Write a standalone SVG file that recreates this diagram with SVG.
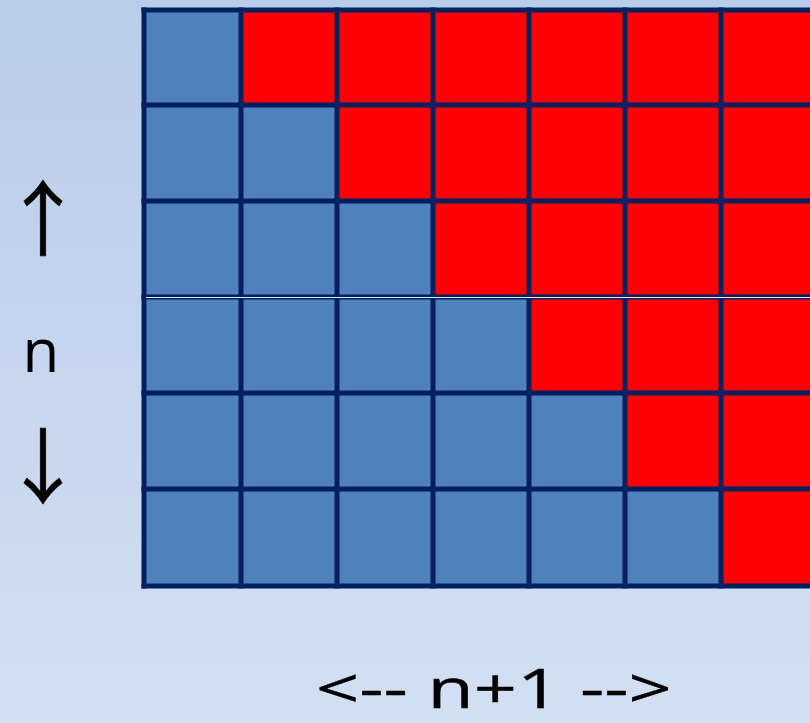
<svg xmlns="http://www.w3.org/2000/svg" width="810" height="723" viewBox="0 0 810 723">
<defs>
<linearGradient id="bg" x1="0" y1="0" x2="0" y2="1">
<stop offset="0" stop-color="#b9cce9"/>
<stop offset="1" stop-color="#d3dff2"/>
</linearGradient>
<style>
.b{fill:#4f81bd}
.r{fill:#ff0000}
.g{stroke:#002060;stroke-width:5;fill:none;stroke-linecap:square}
.t{font-family:"Open Sans","Liberation Sans",sans-serif;fill:#000}
.a{font-family:"Noto Sans CJK JP",sans-serif;fill:#000}
</style>
</defs>
<rect width="810" height="723" fill="url(#bg)"/>
<g id="cells">
<rect class="b" x="144" y="10" width="97" height="95"/>
<rect class="r" x="241" y="10" width="580" height="95"/>
<rect class="b" x="144" y="105" width="193" height="96"/>
<rect class="r" x="337" y="105" width="484" height="96"/>
<rect class="b" x="144" y="201" width="289" height="96"/>
<rect class="r" x="433" y="201" width="388" height="96"/>
<rect class="b" x="144" y="297" width="385" height="96"/>
<rect class="r" x="529" y="297" width="292" height="96"/>
<rect class="b" x="144" y="393" width="481" height="96"/>
<rect class="r" x="625" y="393" width="196" height="96"/>
<rect class="b" x="144" y="489" width="577" height="97"/>
<rect class="r" x="721" y="489" width="100" height="97"/>
</g>
<g id="connectors">
<path class="g" d="M144 10H820M144 105H820M144 201H820M144 297H820M144 393H820M144 489H820M144 586H820"/>
<path class="g" d="M144 10V586M241 10V586M337 10V586M433 10V586M529 10V586M625 10V586M721 10V586"/>
<line x1="146" y1="297.5" x2="820" y2="297.5" stroke="#e4ecf8" stroke-width="1.2"/>
</g>
<g id="labels">
<text class="a" x="43" y="249" font-size="82" text-anchor="middle" stroke="#000" stroke-width="0.6">↑</text>
<text class="t" x="41" y="372" font-size="60" text-anchor="middle">n</text>
<text class="a" x="43" y="497" font-size="82" text-anchor="middle" stroke="#000" stroke-width="0.6">↓</text>
<text class="t" transform="translate(316,708) scale(1.4,1)" x="0" y="0" font-size="54" stroke="#000" stroke-width="0.4">&lt;-- n+1 --&gt;</text>
</g>
</svg>
